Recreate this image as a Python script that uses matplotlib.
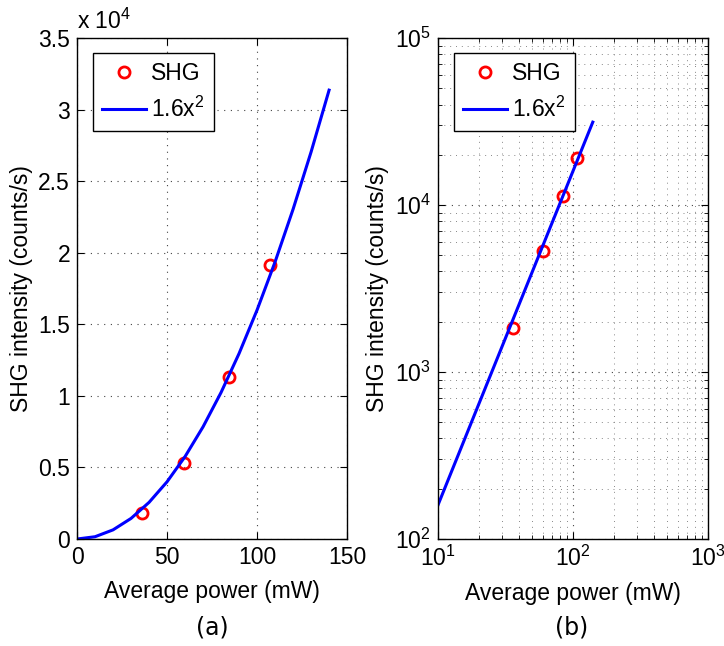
import matplotlib
matplotlib.use("Agg")
import matplotlib.pyplot as plt
from matplotlib.ticker import FuncFormatter, LogLocator

plt.rcParams['font.family'] = ['Liberation Sans', 'DejaVu Sans']
plt.rcParams['mathtext.fontset'] = 'custom'
plt.rcParams['mathtext.rm'] = 'Liberation Sans'
plt.rcParams['mathtext.it'] = 'Liberation Sans'

# measured SHG points
power = [36, 59.6, 84.4, 107.4]
shg = [1840, 5290, 11300, 19150]

# 1.6x^2 curve as drawn
fit_x = [0, 10, 20, 30, 40, 50, 60, 70, 80, 90, 100, 110, 120, 130, 140]
fit_y = [0, 160, 640, 1440, 2560, 4000, 5760, 7840, 10240, 12960,
         16000, 19360, 23040, 27040, 31360]

fig = plt.figure(figsize=(7.24, 6.46), dpi=100)
ax1 = fig.add_axes([0.1064, 0.1656, 0.373, 0.7755])
ax2 = fig.add_axes([0.605, 0.1656, 0.373, 0.7755])

fs = 16.5
grid_ls = (0, (1, 5))

def style(ax):
    ax.tick_params(direction='in', top=True, right=True, labelsize=fs,
                   length=5, width=0.8, pad=5)
    ax.tick_params(which='minor', direction='in', top=True, right=True,
                   length=3, width=0.6)
    for s in ax.spines.values():
        s.set_linewidth(1.0)
    ax.set_xlabel('Average power (mW)', fontsize=fs, labelpad=8)
    ax.set_ylabel('SHG intensity (counts/s)', fontsize=fs, labelpad=4)

def add_legend(ax):
    leg = ax.legend(loc='upper left', fontsize=fs, fancybox=False,
                    edgecolor='black', framealpha=1, borderaxespad=0,
                    handlelength=1.9, handletextpad=0.25, borderpad=0.4,
                    labelspacing=0.5, bbox_to_anchor=(0.059, 0.970))
    leg.get_frame().set_linewidth(1.0)

# (a) linear
ax1.plot(power, shg, 'o', mfc='none', mec='red', mew=2, ms=8, label='SHG')
ax1.plot(fit_x, fit_y, '-', color='blue', lw=2.2, label='1.6x$^2$')
ax1.set_xlim(0, 150)
ax1.set_ylim(0, 35000)
ax1.set_xticks([0, 50, 100, 150])
ax1.set_yticks([0, 5000, 10000, 15000, 20000, 25000, 30000, 35000])
ax1.yaxis.set_major_formatter(FuncFormatter(lambda v, p: ('%g' % (v / 1e4))))
ax1.grid(True, linestyle=grid_ls, color='#444444', lw=0.8)
style(ax1)
ax1.text(0.0, 1.008, 'x 10$^4$', transform=ax1.transAxes, fontsize=fs,
         ha='left', va='bottom')
add_legend(ax1)

# (b) log-log
ax2.loglog(power, shg, 'o', mfc='none', mec='red', mew=2, ms=8, label='SHG')
ax2.loglog(fit_x[1:], fit_y[1:], '-', color='blue', lw=2.2, label='1.6x$^2$')
ax2.set_xlim(10, 1000)
ax2.set_ylim(100, 100000)
ax2.xaxis.set_minor_locator(LogLocator(base=10, subs=range(2, 10), numticks=20))
ax2.yaxis.set_minor_locator(LogLocator(base=10, subs=range(2, 10), numticks=20))
ax2.grid(True, which='major', linestyle=grid_ls, color='#444444', lw=0.8)
ax2.grid(True, which='minor', linestyle=grid_ls, color='#888888', lw=0.7)
style(ax2)
add_legend(ax2)

fig.text(0.293, 0.028, '(a)', fontsize=17, ha='center', va='center',
         family='DejaVu Sans')
fig.text(0.79, 0.028, '(b)', fontsize=17, ha='center', va='center',
         family='DejaVu Sans')

fig.savefig('out.png', dpi=100)
